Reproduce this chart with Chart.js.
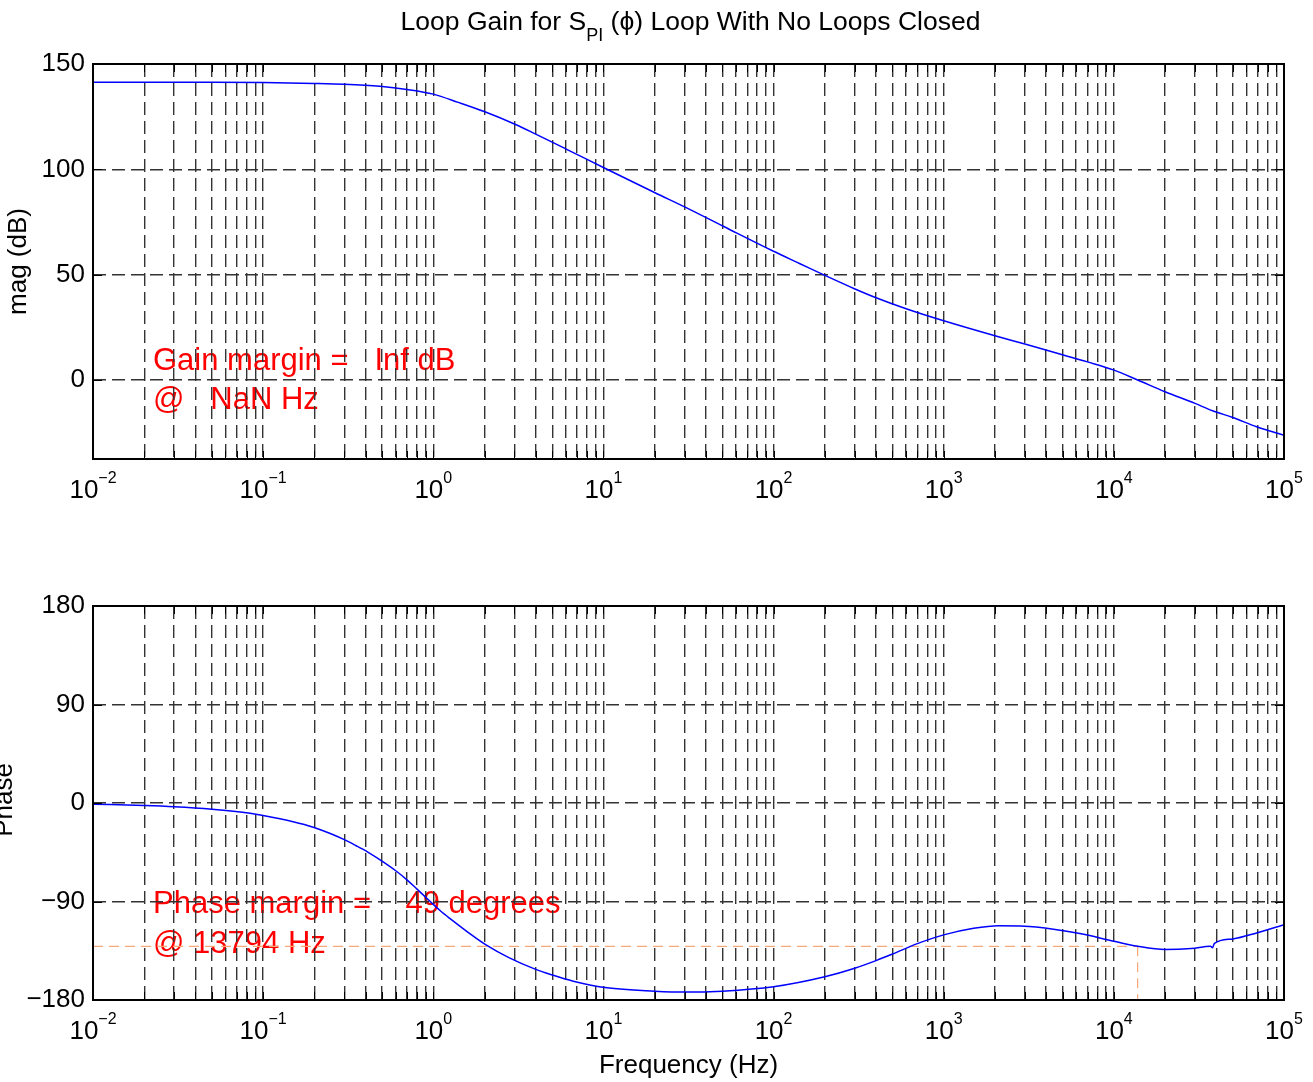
<!DOCTYPE html>
<html>
<head>
<meta charset="utf-8">
<script src="https://cdn.jsdelivr.net/npm/chart.js@4.4.1/dist/chart.umd.min.js"></script>
<style>
  html, body { margin: 0; padding: 0; background: #fff; }
  #wrap { position: relative; width: 1313px; height: 1082px; overflow: hidden; }
  #wrap canvas { position: absolute; left: 0; }
</style>
</head>
<body>
<div id="wrap">
  <canvas id="magChart" width="1313" height="530" style="top:0;width:1313px;height:530px"></canvas>
  <canvas id="phaseChart" width="1313" height="552" style="top:530px;width:1313px;height:552px"></canvas>
</div>
<script>
// valores (Bode de malha aberta)
const magFreq = [0.01, 0.02, 0.05, 0.1, 0.2, 0.3, 0.486, 0.7, 1, 1.4, 2.01, 3.02, 4, 6.08, 10.2, 20.1, 30, 50.6, 100, 143, 196, 301, 404, 607, 1000, 2000, 3000, 5040, 7000, 9930, 13794, 20000, 30000, 38000, 50000, 69000, 100000];
const magDb = [141.3, 141.3, 141.3, 141.2, 140.8, 140.4, 139.4, 137.9, 135.7, 131.8, 127.3, 121.4, 116.7, 109.5, 100.5, 88.9, 82.2, 73.0, 61.1, 55.2, 50.0, 43.2, 38.9, 33.7, 28.1, 21.0, 17.1, 11.9, 8.6, 4.8, 0, -5.6, -11.1, -14.6, -17.8, -22.2, -26.2];

const phaseFreq = [0.01, 0.02, 0.03, 0.05, 0.084, 0.1, 0.15, 0.197, 0.25, 0.3, 0.35, 0.41, 0.51, 0.61, 0.70, 0.80, 0.96, 1.1, 1.25, 1.58, 2.03, 2.8, 4.0, 4.9, 6.65, 10.5, 20, 30, 50, 100, 200, 300, 400, 500, 700, 1000, 1500, 2100, 3500, 6300, 10000, 13794, 20000, 28500, 37000, 38000, 39000, 50000, 69000, 100000];
const phaseDeg = [-1.1, -2.3, -3.4, -5.7, -9.4, -11.4, -17.1, -22.1, -28.1, -33.5, -38.8, -44.6, -54.0, -62.6, -70.2, -78.5, -90.0, -98.5, -105.5, -117.5, -129.4, -141.5, -152, -156.7, -162.8, -168.8, -171.9, -172.8, -171.9, -167.9, -158.8, -151.0, -144.0, -138.0, -128.5, -120.5, -114.5, -112.1, -113.2, -119.3, -126.3, -130.9, -133.9, -133, -130.9, -132.3, -128.3, -124.2, -118.7, -111.1];

const magTicks = [0, 50, 100, 150];
const phaseTicks = [-180, -90, 0, 90, 180];
const decadeExps = [-2, -1, 0, 1, 2, 3, 4, 5];

// margens
const pmFreq = 13794;
const pmDeg = 49;
const gainLines = ['Gain margin =   Inf dB', '@   NaN Hz'];
const phaseLines = ['Phase margin =    49 degrees', '@ 13794 Hz'];

const FONT = "'Liberation Sans', Arial, sans-serif";
Chart.defaults.font.family = FONT;

// grade log: 1..9 em cada década
const gridFreqs = [];
decadeExps.forEach(e => {
  for (let m = 1; m <= 9; m++) {
    const v = m * Math.pow(10, e);
    if (v <= 1e5 + 1) gridFreqs.push(v);
  }
});

const fmtTick = v => v < 0 ? '\u2212' + Math.abs(v) : String(v);

function opcoesBase(yMin, yMax, yTicks, padTop, xHeight) {
  return {
    responsive: false,
    animation: false,
    events: [],
    layout: { padding: { top: padTop, right: 29, left: 0, bottom: 0 } },
    plugins: { legend: { display: false }, tooltip: { enabled: false }, title: { display: false } },
    scales: {
      x: {
        type: 'logarithmic', min: 0.01, max: 1e5,
        afterBuildTicks: s => { s.ticks = gridFreqs.map(v => ({ value: v })); },
        afterFit: s => { s.height = xHeight; },
        ticks: { display: false },
        grid: { color: '#333', lineWidth: 1.4, drawTicks: false },
        border: { display: false, dash: [13, 6] }
      },
      y: {
        min: yMin, max: yMax,
        afterBuildTicks: s => { s.ticks = yTicks.map(v => ({ value: v })); },
        afterFit: s => { s.width = 93; },
        ticks: { color: '#000', font: { size: 26 }, padding: 8, callback: fmtTick },
        grid: { color: '#333', lineWidth: 1.4, drawTicks: false },
        border: { display: false, dash: [13, 6] }
      }
    }
  };
}

// moldura + marcas internas + rótulos 10^n
function pluginMoldura(extraTexto) {
  return {
    id: 'moldura',
    beforeDraw(chart) {
      if (extraTexto && extraTexto.antes) extraTexto.antes(chart);
    },
    afterDraw(chart) {
      const { ctx, chartArea: a, scales } = chart;
      ctx.save();
      ctx.strokeStyle = '#000';
      ctx.lineWidth = 1;
      ctx.beginPath();
      gridFreqs.forEach(v => {
        const px = Math.round(scales.x.getPixelForValue(v)) + 0.5;
        ctx.moveTo(px, a.bottom); ctx.lineTo(px, a.bottom - 8);
        ctx.moveTo(px, a.top); ctx.lineTo(px, a.top + 8);
      });
      scales.y.ticks.forEach(t => {
        const py = Math.round(scales.y.getPixelForValue(t.value)) + 0.5;
        ctx.moveTo(a.left, py); ctx.lineTo(a.left + 9, py);
        ctx.moveTo(a.right, py); ctx.lineTo(a.right - 9, py);
      });
      ctx.stroke();
      ctx.lineWidth = 2;
      ctx.strokeRect(a.left, a.top, a.right - a.left, a.bottom - a.top);

      // rótulos do eixo x com expoente
      ctx.fillStyle = '#000';
      ctx.textBaseline = 'alphabetic';
      ctx.textAlign = 'left';
      decadeExps.forEach(e => {
        const px = scales.x.getPixelForValue(Math.pow(10, e));
        const exp = e < 0 ? '\u2212' + Math.abs(e) : String(e);
        ctx.font = '26px ' + FONT;
        const w1 = ctx.measureText('10').width;
        ctx.font = '16px ' + FONT;
        const w2 = ctx.measureText(exp).width;
        const x0 = px - (w1 + w2) / 2;
        ctx.font = '26px ' + FONT;
        ctx.fillText('10', x0, a.bottom + 39);
        ctx.font = '16px ' + FONT;
        ctx.fillText(exp, x0 + w1, a.bottom + 24);
      });
      if (extraTexto && extraTexto.depois) extraTexto.depois(chart);
      ctx.restore();
    }
  };
}

function rotulo(ctx, texto, x, y) {
  ctx.save();
  ctx.translate(x, y);
  ctx.rotate(-Math.PI / 2);
  ctx.textAlign = 'center';
  ctx.textBaseline = 'middle';
  ctx.font = '26px ' + FONT;
  ctx.fillStyle = '#000';
  ctx.fillText(texto, 0, 0);
  ctx.restore();
}

function textoVermelho(ctx, linhas, x, y1, y2) {
  ctx.save();
  ctx.font = '31px ' + FONT;
  ctx.fillStyle = '#ff0000';
  ctx.textAlign = 'left';
  ctx.textBaseline = 'alphabetic';
  ctx.fillText(linhas[0], x, y1);
  ctx.fillText(linhas[1], x, y2);
  ctx.restore();
}

// gráfico de magnitude
new Chart(document.getElementById('magChart'), {
  type: 'line',
  data: {
    datasets: [{
      data: magFreq.map((f, i) => ({ x: f, y: magDb[i] })),
      borderColor: '#0000ff', borderWidth: 1.5, pointRadius: 0,
      cubicInterpolationMode: 'monotone', fill: false
    }]
  },
  options: opcoesBase(-37.5, 150, magTicks, 64, 71),
  plugins: [pluginMoldura({
    antes(chart) {
      const a = chart.chartArea;
      const y0 = chart.scales.y.getPixelForValue(0);
      textoVermelho(chart.ctx, gainLines, a.left + 60, y0 - 10, y0 + 29);
    },
    depois(chart) {
      const { ctx, chartArea: a } = chart;
      const cx = (a.left + a.right) / 2 + 2;
      ctx.fillStyle = '#000';
      ctx.textBaseline = 'alphabetic';
      const p1 = 'Loop Gain for S', sub = 'PI', p2 = ' (\u03D5) Loop With No Loops Closed';
      ctx.font = '26.5px ' + FONT;
      const w1 = ctx.measureText(p1).width, w3 = ctx.measureText(p2).width;
      ctx.font = '18px ' + FONT;
      const w2 = ctx.measureText(sub).width;
      let x = cx - (w1 + w2 + w3) / 2;
      ctx.textAlign = 'left';
      ctx.font = '26.5px ' + FONT;
      ctx.fillText(p1, x, 30);
      ctx.font = '18px ' + FONT;
      ctx.fillText(sub, x + w1, 41);
      ctx.font = '26.5px ' + FONT;
      ctx.fillText(p2, x + w1 + w2, 30);
      rotulo(ctx, 'mag (dB)', 19, (a.top + a.bottom) / 2);
    }
  })]
});

// gráfico de fase
const pmPhase = -180 + pmDeg;
new Chart(document.getElementById('phaseChart'), {
  type: 'line',
  data: {
    datasets: [
      {
        data: phaseFreq.map((f, i) => ({ x: f, y: phaseDeg[i] })),
        borderColor: '#0000ff', borderWidth: 1.5, pointRadius: 0,
        cubicInterpolationMode: 'monotone', fill: false
      },
      {
        data: [{ x: 0.01, y: pmPhase }, { x: pmFreq, y: pmPhase }],
        borderColor: '#f7a878', borderWidth: 1.2, borderDash: [10, 6], pointRadius: 0, fill: false
      },
      {
        data: [{ x: pmFreq, y: pmPhase }, { x: pmFreq, y: -180 }],
        borderColor: '#f7a878', borderWidth: 1.2, borderDash: [10, 6], pointRadius: 0, fill: false
      }
    ]
  },
  options: opcoesBase(-180, 180, phaseTicks, 76, 82),
  plugins: [pluginMoldura({
    antes(chart) {
      const a = chart.chartArea;
      const y90 = chart.scales.y.getPixelForValue(-90);
      textoVermelho(chart.ctx, phaseLines, a.left + 60, y90 + 11, y90 + 51);
    },
    depois(chart) {
      const { ctx, chartArea: a } = chart;
      ctx.font = '26px ' + FONT;
      ctx.fillStyle = '#000';
      ctx.textAlign = 'center';
      ctx.textBaseline = 'alphabetic';
      ctx.fillText('Frequency (Hz)', (a.left + a.right) / 2, a.bottom + 73);
      rotulo(ctx, 'Phase', 5, 800 - 530);
    }
  })]
});
</script>
</body>
</html>
